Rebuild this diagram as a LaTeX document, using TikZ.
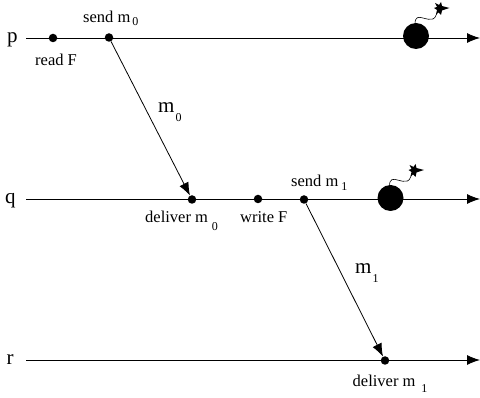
\documentclass[tikz,border=0pt]{standalone}
\usepackage{fontspec}
\usepackage{tikz}
\setmainfont{Liberation Serif}
\usetikzlibrary{arrows.meta}
\tikzset{
    event/.style={circle, fill=black, inner sep=0pt, minimum size=8.5pt},
    bomb/.style={circle, fill=black, inner sep=0pt, minimum size=26pt},
    label/.style={inner sep=0pt, anchor=base west, font=\fontsize{16.5}{17}\selectfont},
    bigger/.style={label, font=\fontsize{21}{21}\selectfont},
    timeline/.style={line width=0.9pt, -{Latex[length=13pt, width=10pt]}},
    message/.style={line width=0.8pt, -{Latex[length=13pt, width=10pt]}},
}
\newcommand{\subm}[3]{m\hspace{#2pt}\raisebox{-#3pt}{\fontsize{12}{12}\selectfont #1}}
\begin{document}
\begin{tikzpicture}[x=1pt, y=-1pt]
    \useasboundingbox (0,0) rectangle (480,398);
    % process lines
    \foreach \name/\y/\xlabel in {p/43/7, q/204/5, r/365/6.5} {
        \node[bigger] (\name) at (\xlabel,\y) {\name};
    }
    \foreach \name/\y in {p/38, q/199, r/360} {
        \coordinate (\name start) at (26,\y);
        \coordinate (\name end) at (480,\y);
        \draw[timeline] (\name start) -- (\name end);
    }
    % events
    \node[event] (readF) at (53,38) {};
    \node[event] (sendA) at (109,37.5) {};
    \node[event] (deliverA) at (192,199.5) {};
    \node[event] (writeF) at (258,199) {};
    \node[event] (sendB) at (304,199.5) {};
    \node[event] (deliverB) at (385,360.5) {};
    % messages
    \draw[message] (sendA) -- (deliverA);
    \draw[message] (sendB) -- (deliverB);
    % bombs
    \foreach \name/\x/\y in {bombP/416/36, bombQ/390.5/198} {
        \node[bomb] (\name) at (\x,\y) {};
        \begin{scope}[shift={(\x,\y)}]
            % fuse
            \draw[line width=0.6pt] (-1,-12) .. controls (-1,-20) and (3,-19) .. (7,-18)
                .. controls (11,-17) and (14,-16) .. (17,-17)
                .. controls (20,-18) and (20,-23) .. (23,-26);
            % spark
            \fill (19,-33) -- (23,-31) -- (25,-34) -- (26,-30) -- (33.5,-28) -- (26,-25.5)
                -- (25,-21) -- (22.5,-23.5) -- (20,-21.5) -- (21,-26) -- (18,-28) -- (21,-29) -- cycle;
        \end{scope}
    }
    % labels
    \node[label] (sendAtext) at (83,23) {send \subm{0}{2}{3}};
    \node[label] (readFtext) at (35,65.5) {read F};
    \node[bigger] (msgA) at (158,113) {\subm{0}{1}{9}};
    \node[label] (deliverAtext) at (145,223) {deliver \subm{0}{4}{8}};
    \node[label] (writeFtext) at (240,222.7) {write F};
    \node[label] (sendBtext) at (291,186.7) {send \subm{1}{3}{4}};
    \node[bigger] (msgB) at (355,274) {\subm{1}{1}{9}};
    \node[label] (deliverBtext) at (352.5,387) {deliver \subm{1}{6}{6}};
\end{tikzpicture}
\end{document}
